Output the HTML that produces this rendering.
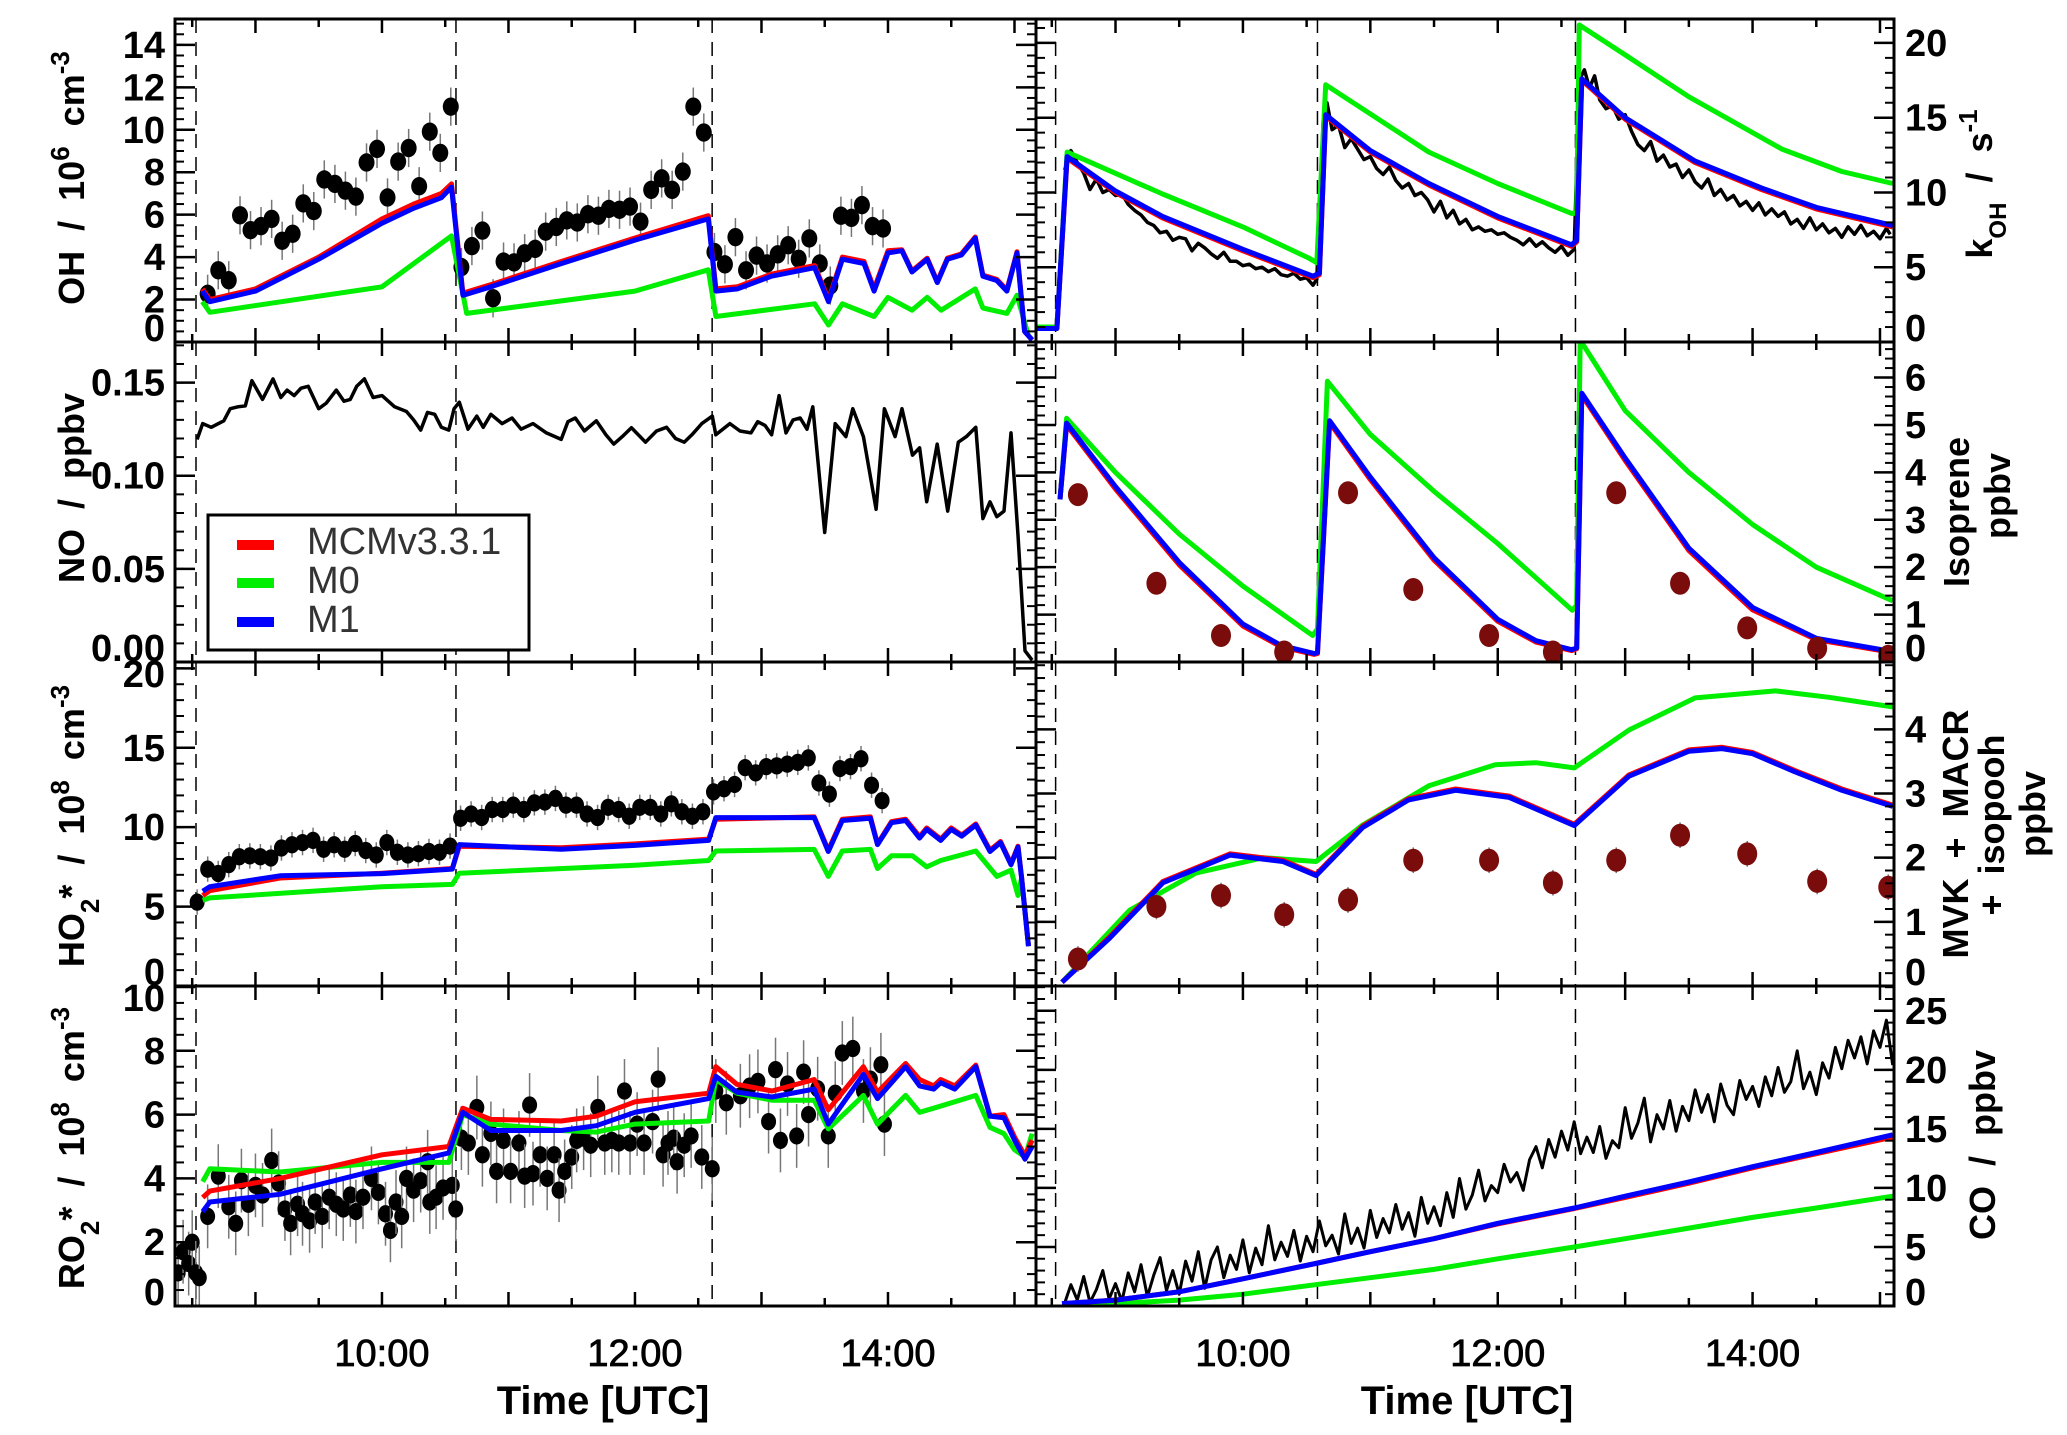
<!DOCTYPE html>
<html><head><meta charset="utf-8"><title>Chamber experiment OH, kOH, NO, isoprene, HO2, MVK, RO2 and CO time series</title>
<style>
html,body{margin:0;padding:0;background:#fff;}
svg{display:block;font-family:"Liberation Sans",sans-serif;}
.ttl{white-space:pre;}
</style></head>
<body>
<svg id="fig" width="2067" height="1435" viewBox="0 0 2067 1435" xmlns="http://www.w3.org/2000/svg">
<rect x="0" y="0" width="2067" height="1435" fill="#fff"/>
<g id="root"></g>

<!-- Axis titles -->
<g font-family="Liberation Sans, sans-serif" font-weight="bold" fill="#000" font-size="36">
  <text class="ttl" transform="translate(84,178) rotate(-90)" text-anchor="middle">OH  /  10<tspan baseline-shift="super" font-size="26">6</tspan>  cm<tspan baseline-shift="super" font-size="26">-3</tspan></text>
  <text class="ttl" transform="translate(84,488) rotate(-90)" text-anchor="middle">NO  /  ppbv</text>
  <text class="ttl" transform="translate(84,826) rotate(-90)" text-anchor="middle">HO<tspan baseline-shift="sub" font-size="26">2</tspan>*  /  10<tspan baseline-shift="super" font-size="26">8</tspan>  cm<tspan baseline-shift="super" font-size="26">-3</tspan></text>
  <text class="ttl" transform="translate(84,1148) rotate(-90)" text-anchor="middle">RO<tspan baseline-shift="sub" font-size="26">2</tspan>*  /  10<tspan baseline-shift="super" font-size="26">8</tspan>  cm<tspan baseline-shift="super" font-size="26">-3</tspan></text>
  <text class="ttl" transform="translate(1992,184) rotate(-90)" text-anchor="middle">k<tspan baseline-shift="sub" font-size="24">OH</tspan>  /  s<tspan baseline-shift="super" font-size="26">-1</tspan></text>
  <text transform="translate(1969,512) rotate(-90)" text-anchor="middle">Isoprene</text>
  <text transform="translate(2010,496) rotate(-90)" text-anchor="middle">ppbv</text>
  <text class="ttl" transform="translate(1968,834) rotate(-90)" text-anchor="middle">MVK  +  MACR</text>
  <text class="ttl" transform="translate(2004,825) rotate(-90)" text-anchor="middle">+  isopooh</text>
  <text transform="translate(2045,814) rotate(-90)" text-anchor="middle">ppbv</text>
  <text class="ttl" transform="translate(1995,1145) rotate(-90)" text-anchor="middle">CO  /  ppbv</text>
</g>

<!-- Legend -->
<g>
  <rect x="208" y="515" width="321" height="135" fill="#fff" stroke="#000" stroke-width="3"/>
  <g>
    <rect x="237" y="540" width="37" height="10" fill="#ff0000"/>
    <text x="307" y="554" font-size="38" fill="#333" font-family="Liberation Sans, sans-serif">MCMv3.3.1</text>
  </g>
  <g>
    <rect x="237" y="578" width="37" height="10" fill="#00ee00"/>
    <text x="307" y="593" font-size="38" fill="#333" font-family="Liberation Sans, sans-serif">M0</text>
  </g>
  <g>
    <rect x="237" y="617" width="37" height="10" fill="#0000ff"/>
    <text x="307" y="632" font-size="38" fill="#333" font-family="Liberation Sans, sans-serif">M1</text>
  </g>
</g>
</svg>
<script>
// ---------- data ----------
const expStarts = [8.53, 10.585, 12.61];
const hourTicks = [10, 12, 14];
const hourLabels = ["10:00", "12:00", "14:00"];

// OH (1e6 cm-3)
const ohObs = [[8.622,2.27],[8.706,3.38],[8.789,2.91],[8.878,5.97],[8.961,5.27],[9.044,5.46],[9.128,5.80],[9.211,4.77],[9.294,5.10],[9.378,6.53],[9.461,6.17],[9.544,7.66],[9.628,7.45],[9.711,7.13],[9.794,6.85],[9.878,8.46],[9.961,9.10],[10.044,6.81],[10.128,8.50],[10.211,9.14],[10.294,7.34],[10.378,9.91],[10.461,8.91],[10.544,11.09],[10.628,3.53],[10.711,4.52],[10.794,5.25],[10.878,2.06],[10.961,3.79],[11.044,3.75],[11.128,4.18],[11.211,4.39],[11.294,5.2],[11.378,5.42],[11.461,5.73],[11.544,5.63],[11.628,6.02],[11.711,5.95],[11.794,6.27],[11.878,6.23],[11.961,6.38],[12.044,5.67],[12.128,7.17],[12.211,7.71],[12.294,7.17],[12.378,8.03],[12.461,11.09],[12.544,9.87],[12.628,4.24],[12.711,3.66],[12.794,4.94],[12.878,3.38],[12.961,4.07],[13.044,3.70],[13.128,4.13],[13.211,4.56],[13.294,3.92],[13.378,4.88],[13.461,3.70],[13.544,2.66],[13.628,5.95],[13.711,5.85],[13.794,6.45],[13.878,5.46],[13.961,5.35]];
const ohErr = 0.9;
const ohM1 = [[8.58,2.4],[8.64,1.9],[9.0,2.4],[9.5,3.9],[10.0,5.6],[10.25,6.3],[10.47,6.8],[10.55,7.3],[10.64,2.2],[10.86,2.6],[11.42,3.7],[12.0,4.8],[12.58,5.8],[12.64,2.4],[12.81,2.5],[13.08,3.1],[13.42,3.5],[13.53,1.9],[13.64,3.9],[13.81,3.7],[13.89,2.4],[14.0,4.2],[14.11,4.3],[14.19,3.3],[14.31,3.9],[14.39,2.8],[14.47,3.9],[14.58,4.1],[14.69,4.9],[14.75,3.1],[14.86,2.9],[14.94,2.4],[15.02,4.2],[15.08,0.5],[15.14,0.1]];
const ohMCM = [[8.58,2.5],[8.64,2.0],[9.0,2.5],[9.5,4.0],[10.0,5.8],[10.25,6.5],[10.47,7.0],[10.55,7.45],[10.64,2.3],[10.86,2.7],[11.42,3.8],[12.0,4.9],[12.58,5.95],[12.64,2.5],[12.81,2.6],[13.08,3.2],[13.42,3.6],[13.53,2.0],[13.64,4.0],[13.81,3.8],[13.89,2.5],[14.0,4.3],[14.11,4.35],[14.19,3.35],[14.31,3.95],[14.39,2.85],[14.47,3.95],[14.58,4.15],[14.69,4.95],[14.75,3.15],[14.86,2.95],[14.94,2.45],[15.02,4.25],[15.08,0.5],[15.14,0.1]];
const ohM0 = [[8.58,1.9],[8.64,1.4],[10.0,2.6],[10.55,5.0],[10.67,1.35],[12.0,2.4],[12.58,3.4],[12.64,1.2],[13.42,1.8],[13.53,0.8],[13.64,1.8],[13.89,1.2],[14.0,2.1],[14.19,1.5],[14.31,2.1],[14.42,1.5],[14.69,2.5],[14.75,1.6],[14.94,1.35],[15.02,2.2],[15.11,0.3]];

// kOH (s-1)
const kohObs = [[8.60,11.5],[8.65,12.8],[8.70,12.0],[8.75,11.3],[8.80,10.2],[8.85,10.9],[8.90,10.0],[8.95,10.2],[9.00,9.8],[9.05,9.9],[9.10,9.2],[9.15,8.8],[9.20,8.5],[9.25,8.0],[9.30,7.8],[9.35,7.3],[9.40,7.4],[9.45,6.8],[9.50,7.0],[9.55,6.9],[9.60,6.1],[9.65,6.6],[9.70,6.3],[9.75,5.9],[9.80,5.6],[9.85,6.0],[9.90,5.4],[9.95,5.4],[10.00,5.1],[10.05,5.2],[10.10,4.9],[10.15,5.0],[10.20,4.7],[10.25,4.9],[10.30,4.5],[10.35,4.4],[10.40,4.6],[10.45,4.2],[10.50,4.3],[10.55,3.8],[10.58,4.2],[10.63,14.8],[10.66,16.0],[10.70,14.2],[10.75,14.5],[10.80,13.0],[10.85,13.6],[10.90,12.9],[10.95,12.2],[11.00,12.4],[11.05,11.6],[11.10,11.2],[11.15,11.7],[11.20,10.8],[11.25,10.3],[11.30,10.6],[11.35,9.8],[11.40,10.0],[11.45,9.5],[11.50,8.7],[11.55,9.4],[11.60,8.3],[11.65,8.8],[11.70,7.9],[11.75,8.2],[11.80,7.5],[11.85,7.7],[11.90,7.4],[11.95,7.5],[12.00,7.2],[12.05,7.3],[12.10,7.0],[12.15,6.8],[12.20,6.5],[12.25,6.9],[12.30,6.4],[12.35,6.7],[12.40,6.3],[12.45,6.0],[12.50,6.4],[12.55,5.8],[12.60,6.2],[12.64,17.5],[12.68,18.2],[12.72,17.0],[12.76,17.8],[12.80,16.2],[12.85,15.6],[12.90,15.8],[12.95,14.9],[13.00,15.2],[13.05,14.1],[13.10,13.2],[13.15,12.8],[13.20,13.4],[13.25,12.1],[13.30,12.5],[13.35,11.7],[13.40,11.9],[13.45,11.0],[13.50,11.5],[13.55,10.7],[13.60,10.3],[13.65,10.9],[13.70,9.8],[13.75,10.2],[13.80,9.5],[13.85,9.8],[13.90,9.1],[13.95,9.4],[14.00,8.8],[14.05,9.3],[14.10,8.5],[14.15,8.9],[14.20,8.4],[14.25,8.7],[14.30,7.9],[14.35,8.2],[14.40,7.6],[14.45,8.3],[14.50,7.5],[14.55,7.9],[14.60,7.3],[14.65,7.6],[14.70,7.0],[14.75,7.7],[14.80,7.2],[14.85,7.8],[14.90,7.1],[14.95,7.4],[15.00,6.9],[15.05,7.6],[15.08,7.2]];
const kohM1 = [[8.38,0.9],[8.54,0.9],[8.62,12.4],[9.0,10.1],[9.37,8.4],[10.0,6.2],[10.55,4.4],[10.6,4.6],[10.65,15.2],[11.0,12.8],[11.46,10.6],[12.0,8.4],[12.58,6.5],[12.62,6.8],[12.66,17.6],[13.0,15.0],[13.55,12.1],[14.07,10.3],[14.5,9.0],[15.1,7.8]];
const kohMCM = [[8.38,0.9],[8.54,0.9],[8.62,12.3],[9.0,10.0],[9.37,8.3],[10.0,6.1],[10.55,4.3],[10.6,4.5],[10.65,15.1],[11.0,12.7],[11.46,10.5],[12.0,8.3],[12.58,6.4],[12.62,6.7],[12.66,17.5],[13.0,14.9],[13.55,12.0],[14.07,10.2],[14.5,8.9],[15.1,7.7]];
const kohM0 = [[8.38,1.0],[8.54,1.0],[8.62,12.7],[9.37,9.9],[10.0,7.7],[10.52,5.6],[10.58,5.3],[10.65,17.2],[11.46,12.7],[12.0,10.6],[12.58,8.6],[12.62,8.6],[12.64,21.2],[13.0,19.2],[13.5,16.4],[14.23,12.9],[14.7,11.4],[15.1,10.6]];

// NO (ppbv)
const noObs = [[8.539,0.1195],[8.583,0.128],[8.65,0.126],[8.75,0.1295],[8.8,0.136],[8.861,0.137],[8.92,0.1375],[8.972,0.151],[9.056,0.141],[9.139,0.152],[9.2,0.142],[9.25,0.146],[9.306,0.143],[9.36,0.147],[9.417,0.148],[9.5,0.136],[9.56,0.139],[9.639,0.146],[9.7,0.140],[9.75,0.141],[9.8,0.148],[9.861,0.152],[9.93,0.142],[10.0,0.143],[10.1,0.137],[10.194,0.1345],[10.25,0.130],[10.306,0.1245],[10.36,0.134],[10.417,0.133],[10.47,0.126],[10.528,0.1245],[10.57,0.136],[10.611,0.1395],[10.68,0.125],[10.75,0.132],[10.8,0.126],[10.861,0.133],[10.95,0.128],[11.028,0.131],[11.1,0.125],[11.194,0.128],[11.3,0.123],[11.417,0.1195],[11.47,0.129],[11.528,0.131],[11.6,0.124],[11.694,0.1295],[11.77,0.122],[11.833,0.117],[11.9,0.121],[11.972,0.1258],[12.083,0.118],[12.17,0.124],[12.25,0.126],[12.32,0.120],[12.389,0.118],[12.45,0.122],[12.528,0.128],[12.611,0.132],[12.639,0.122],[12.75,0.128],[12.83,0.124],[12.917,0.123],[12.97,0.129],[13.028,0.127],[13.08,0.122],[13.139,0.143],[13.194,0.123],[13.25,0.130],[13.306,0.131],[13.36,0.125],[13.406,0.137],[13.5,0.0695],[13.583,0.128],[13.667,0.121],[13.722,0.136],[13.806,0.121],[13.906,0.082],[13.972,0.136],[14.056,0.121],[14.111,0.136],[14.194,0.111],[14.25,0.115],[14.306,0.086],[14.389,0.117],[14.472,0.081],[14.556,0.118],[14.62,0.121],[14.694,0.126],[14.75,0.077],[14.806,0.086],[14.86,0.078],[14.917,0.081],[14.972,0.123],[15.028,0.068],[15.083,0.006],[15.139,0.001]];

// Isoprene (ppbv)
const isoObs = [[8.705,3.53],[9.321,1.66],[9.828,0.56],[10.324,0.21],[10.825,3.57],[11.337,1.53],[11.932,0.56],[12.433,0.21],[12.93,3.57],[13.431,1.66],[13.958,0.72],[14.507,0.29],[15.065,0.12]];
const isoM1 = [[8.564,3.43],[8.616,5.04],[9.0,3.7],[9.5,2.1],[10.0,0.8],[10.3,0.35],[10.56,0.18],[10.585,0.2],[10.68,5.09],[11.0,3.9],[11.5,2.2],[12.0,0.9],[12.3,0.45],[12.58,0.26],[12.62,0.3],[12.66,5.67],[13.0,4.3],[13.5,2.4],[14.0,1.15],[14.5,0.5],[15.1,0.22]];
const isoMCM = [[8.564,3.43],[8.616,5.0],[9.0,3.65],[9.5,2.05],[10.0,0.76],[10.3,0.32],[10.56,0.16],[10.585,0.18],[10.68,5.05],[11.0,3.85],[11.5,2.15],[12.0,0.86],[12.3,0.42],[12.58,0.24],[12.62,0.28],[12.66,5.63],[13.0,4.25],[13.5,2.35],[14.0,1.1],[14.5,0.47],[15.1,0.2]];
const isoM0 = [[8.564,3.43],[8.616,5.14],[9.0,4.0],[9.5,2.7],[10.0,1.6],[10.548,0.56],[10.585,0.7],[10.663,5.92],[11.0,4.8],[11.5,3.6],[12.0,2.5],[12.585,1.09],[12.62,1.2],[12.647,6.79],[13.0,5.3],[13.5,4.0],[14.0,2.9],[14.5,2.0],[15.1,1.29]];

// HO2* (1e8 cm-3)
const ho2Start = 8.539;
const ho2Step = 0.0833;
const ho2Obs = [5.28,7.36,7.08,7.64,8.14,8.19,8.14,8.06,8.69,8.89,9.03,9.17,8.61,8.89,8.61,8.97,8.53,8.25,9.03,8.42,8.25,8.33,8.47,8.42,8.81,10.56,10.83,10.61,11.11,11.11,11.39,11.11,11.53,11.58,11.81,11.39,11.39,10.83,10.61,11.25,11.11,10.69,11.25,11.25,10.83,11.47,10.97,10.69,10.97,12.22,12.42,12.69,13.75,13.42,13.81,13.86,13.97,14.08,14.36,12.78,12.08,13.69,13.81,14.31,12.64,11.67];
const ho2Err = 0.8;
const ho2M1 = [[8.583,5.97],[8.639,6.25],[9.194,6.94],[10.0,7.08],[10.556,7.36],[10.611,8.9],[11.417,8.61],[12.0,8.85],[12.583,9.17],[12.639,10.6],[13.417,10.6],[13.528,8.47],[13.639,10.42],[13.861,10.56],[13.917,8.9],[14.028,10.28],[14.139,10.42],[14.25,9.31],[14.306,9.86],[14.417,9.17],[14.5,9.86],[14.583,9.44],[14.694,10.14],[14.806,8.47],[14.889,9.03],[14.972,7.64],[15.028,8.75],[15.056,6.8],[15.111,2.5]];
const ho2MCM = [[8.583,5.7],[8.639,6.0],[9.194,6.8],[10.0,7.1],[10.556,7.4],[10.611,8.8],[11.417,8.7],[12.0,8.95],[12.583,9.25],[12.639,10.5],[13.417,10.65],[13.528,8.55],[13.639,10.5],[13.861,10.65],[13.917,8.95],[14.028,10.35],[14.139,10.5],[14.25,9.4],[14.306,9.95],[14.417,9.25],[14.5,9.95],[14.583,9.5],[14.694,10.2],[14.806,8.55],[14.889,9.1],[14.972,7.7],[15.028,8.8],[15.056,6.85],[15.111,2.5]];
const ho2M0 = [[8.583,5.4],[8.639,5.55],[10.0,6.25],[10.556,6.4],[10.611,7.1],[12.0,7.6],[12.583,7.9],[12.639,8.5],[13.417,8.6],[13.528,6.9],[13.639,8.5],[13.861,8.6],[13.917,7.4],[14.028,8.2],[14.194,8.2],[14.306,7.5],[14.417,7.9],[14.694,8.5],[14.861,6.9],[14.972,7.3],[15.028,5.7],[15.056,6.8],[15.111,2.5]];

// MVK+MACR+isopooh (ppbv)
const mvkObs = [[8.705,0.42],[9.321,1.24],[9.828,1.41],[10.324,1.11],[10.825,1.34],[11.337,1.96],[11.932,1.96],[12.433,1.61],[12.93,1.96],[13.431,2.35],[13.958,2.06],[14.507,1.63],[15.065,1.54]];
const mvkErr = 0.2;
const mvkM1 = [[8.58,0.06],[8.956,0.75],[9.373,1.61],[9.9,2.04],[10.313,1.94],[10.574,1.72],[10.94,2.47],[11.3,2.9],[11.67,3.05],[12.09,2.94],[12.6,2.5],[13.03,3.27],[13.5,3.66],[13.76,3.70],[14.0,3.62],[14.33,3.34],[14.7,3.05],[15.1,2.8]];
const mvkMCM = [[8.58,0.06],[8.956,0.77],[9.373,1.63],[9.9,2.06],[10.313,1.96],[10.574,1.74],[10.94,2.49],[11.3,2.92],[11.67,3.07],[12.09,2.96],[12.6,2.52],[13.03,3.29],[13.5,3.68],[13.76,3.72],[14.0,3.64],[14.33,3.36],[14.7,3.07],[15.1,2.82]];
const mvkM0 = [[8.58,0.06],[9.11,1.18],[9.63,1.76],[10.16,2.0],[10.574,1.94],[10.94,2.51],[11.46,3.12],[11.98,3.45],[12.3,3.48],[12.6,3.4],[13.03,3.99],[13.55,4.49],[14.18,4.6],[14.6,4.5],[15.1,4.35]];

// RO2* (1e8 cm-3)
const ro2Obs = [[8.389,1.04],[8.428,1.70],[8.472,1.33],[8.5,2.0],[8.528,1.04],[8.556,0.89],[8.622,2.81],[8.706,4.07],[8.789,3.11],[8.844,2.59],[8.889,3.93],[8.944,3.19],[9.0,3.78],[9.056,3.48],[9.128,4.56],[9.183,3.85],[9.233,3.04],[9.278,2.59],[9.333,3.19],[9.372,2.89],[9.428,2.67],[9.472,3.26],[9.528,2.81],[9.583,3.41],[9.639,3.19],[9.694,3.04],[9.75,3.48],[9.794,2.96],[9.85,3.41],[9.917,4.0],[9.972,3.56],[10.028,2.89],[10.067,2.37],[10.111,3.26],[10.156,2.81],[10.194,4.0],[10.25,3.63],[10.306,3.93],[10.361,4.52],[10.378,3.26],[10.428,3.41],[10.483,3.70],[10.556,3.78],[10.583,3.04],[10.628,5.26],[10.683,5.11],[10.75,6.22],[10.794,4.74],[10.861,5.41],[10.906,4.22],[10.961,5.19],[11.017,4.22],[11.083,5.11],[11.128,4.07],[11.167,6.30],[11.194,4.15],[11.25,4.74],[11.306,4.0],[11.361,4.74],[11.4,3.63],[11.444,4.22],[11.5,4.67],[11.539,5.19],[11.594,5.26],[11.65,5.04],[11.706,6.22],[11.761,5.11],[11.817,5.19],[11.872,5.11],[11.917,6.74],[11.961,5.11],[12.017,5.70],[12.072,5.11],[12.139,5.78],[12.183,7.11],[12.222,4.74],[12.261,5.11],[12.306,5.26],[12.333,4.52],[12.389,5.04],[12.444,5.33],[12.528,4.67],[12.611,4.30],[12.639,6.74],[12.722,6.37],[12.833,6.59],[12.906,6.89],[12.972,7.04],[13.056,5.78],[13.111,7.41],[13.15,5.19],[13.206,6.96],[13.278,5.33],[13.333,7.33],[13.372,6.0],[13.444,6.81],[13.528,5.33],[13.583,6.67],[13.639,7.93],[13.722,8.07],[13.806,6.74],[13.861,7.11],[13.944,7.56],[13.972,5.70]];
const ro2Err = 1.0;
const ro2MCM = [[8.583,3.4],[8.639,3.6],[9.194,4.0],[10.0,4.74],[10.528,5.0],[10.639,6.2],[10.861,5.85],[11.417,5.8],[11.694,5.95],[12.0,6.4],[12.583,6.67],[12.639,7.5],[12.806,6.95],[13.083,6.74],[13.417,7.1],[13.528,6.15],[13.806,7.5],[13.917,6.7],[14.139,7.6],[14.25,7.1],[14.361,6.9],[14.417,7.1],[14.528,6.9],[14.694,7.55],[14.806,5.95],[14.917,6.0],[15.0,5.3],[15.083,4.7],[15.139,5.2]];
const ro2M1 = [[8.583,2.96],[8.639,3.26],[9.194,3.5],[10.0,4.3],[10.528,4.8],[10.639,6.07],[10.861,5.5],[11.417,5.5],[11.694,5.65],[12.0,6.07],[12.583,6.5],[12.639,7.2],[12.806,6.7],[13.083,6.55],[13.417,6.8],[13.528,5.7],[13.806,7.26],[13.917,6.5],[14.139,7.5],[14.25,6.9],[14.361,6.8],[14.417,7.0],[14.528,6.8],[14.694,7.5],[14.806,5.95],[14.917,5.9],[15.0,5.2],[15.083,4.6],[15.139,5.0]];
const ro2M0 = [[8.583,3.9],[8.639,4.3],[9.194,4.2],[10.0,4.5],[10.528,4.5],[10.639,6.0],[10.861,5.7],[11.417,5.5],[11.694,5.45],[12.0,5.7],[12.583,5.8],[12.639,7.1],[12.806,6.67],[13.083,6.45],[13.417,6.45],[13.528,5.55],[13.806,6.6],[13.917,5.7],[14.139,6.6],[14.25,6.07],[14.361,6.2],[14.694,6.6],[14.806,5.6],[14.917,5.4],[15.0,4.9],[15.083,4.67],[15.139,5.4]];

// CO (ppbv)
const coStart = 8.60;
const coStep = 0.05;
const coObs = [0.2,1.8,0.5,2.5,0.3,1.4,3.0,0.6,1.9,
 0.4,2.8,1.2,3.5,0.8,2.6,4.1,1.3,3.0,
 1.0,3.8,2.1,4.6,1.5,3.9,5.0,2.4,4.3,3.1,
 5.6,2.8,4.9,3.5,6.8,3.9,5.4,4.2,6.4,3.8,
 5.9,4.6,7.2,5.1,6.0,4.4,7.8,5.3,6.6,4.9,
 8.1,5.8,7.4,6.2,8.6,6.5,7.9,5.9,9.2,7.0,
 8.4,6.8,9.6,7.5,10.8,8.2,9.4,11.5,8.9,10.2,
 9.6,12.0,10.5,11.3,9.8,12.4,13.5,11.7,14.1,12.6,
 14.8,13.2,15.6,12.9,14.3,13.0,15.2,12.5,14.0,13.4,
 16.8,14.2,15.5,17.6,13.9,16.2,15.0,17.4,14.8,16.9,
 15.7,18.3,16.4,17.9,15.6,18.8,17.0,16.2,19.1,17.5,
 18.6,16.9,19.4,17.8,20.2,18.1,19.0,21.6,18.4,19.8,
 17.9,20.6,19.3,21.9,20.1,22.5,21.0,22.8,20.5,23.3,
 21.9,24.2,20.4];
const coM1 = [[8.58,0.2],[9.0,0.5],[9.5,1.2],[10.0,2.3],[10.57,3.6],[11.0,4.6],[11.5,5.7],[12.0,7.0],[12.6,8.3],[13.0,9.3],[13.5,10.5],[14.0,11.8],[14.5,13.0],[15.1,14.5]];
const coMCM = [[8.58,0.2],[9.0,0.5],[9.5,1.2],[10.0,2.3],[10.57,3.6],[11.0,4.6],[11.5,5.7],[12.0,6.95],[12.6,8.25],[13.0,9.2],[13.5,10.4],[14.0,11.7],[14.5,12.9],[15.1,14.3]];
const coM0 = [[8.58,0.1],[9.0,0.2],[9.5,0.5],[10.0,1.0],[10.57,1.8],[11.0,2.4],[11.5,3.1],[12.0,4.0],[12.6,5.0],[13.0,5.7],[13.5,6.6],[14.0,7.5],[14.5,8.3],[15.1,9.3]];

// y ticks
const ohTicks = [0,2,4,6,8,10,12,14];
const noTicks = [0,0.05,0.10,0.15];
const ho2Ticks = [0,5,10,15,20];
const ro2Ticks = [0,2,4,6,8,10];
const kohTicks = [0,5,10,15,20];
const isoTicks = [0,1,2,3,4,5,6];
const mvkTicks = [0,1,2,3,4];
const coTicks = [0,5,10,15,20,25];

// ---------- drawing ----------
const NS = "http://www.w3.org/2000/svg";
const root = document.getElementById("root");
function mk(tag, attrs, parent) {
  const e = document.createElementNS(NS, tag);
  for (const k in attrs) e.setAttribute(k, attrs[k]);
  (parent || root).appendChild(e);
  return e;
}
const RED = "#ff0000", GREEN = "#00ee00", BLUE = "#0000ff", BROWN = "#7a0c0c";
const LW = 5;
const rows = [19, 342, 662, 986, 1306];
const colL = {x0: 175, x1: 1036, t0: 8.364, t1: 15.17};
const colR = {x0: 1036, x1: 1894, t0: 8.376, t1: 15.11};
let clipId = 0;

function makePanel(col, row, ymin, ymax, name) {
  const p = {x0: col.x0, x1: col.x1, y0: rows[row], y1: rows[row + 1], t0: col.t0, t1: col.t1, ymin: ymin, ymax: ymax};
  p.X = t => p.x0 + (t - p.t0) / (p.t1 - p.t0) * (p.x1 - p.x0);
  p.Y = v => p.y1 - (v - p.ymin) / (p.ymax - p.ymin) * (p.y1 - p.y0);
  const cid = "clip" + (clipId++);
  const cp = mk("clipPath", {id: cid});
  mk("rect", {x: p.x0, y: p.y0, width: p.x1 - p.x0, height: p.y1 - p.y0}, cp);
  p.g = mk("g", {"clip-path": "url(#" + cid + ")"});
  
  
  expStarts.forEach(t => {
    const l = mk("line", {x1: p.X(t), x2: p.X(t), y1: p.y0, y2: p.y1, stroke: "#000", "stroke-width": 1.5, "stroke-dasharray": "14,9"}, p.g);
    
    
  });
  return p;
}

function frame(p, name, yTicks, minorStep, fmt, side) {
  const g = mk("g", {});
  
  
  mk("rect", {x: p.x0, y: p.y0, width: p.x1 - p.x0, height: p.y1 - p.y0, fill: "none", stroke: "#000", "stroke-width": 3}, g);
  for (let t = 8.5; t <= 15.01; t += 0.5) {
    const x = p.X(t);
    const L = (Math.abs(t - Math.round(t)) < 1e-6) ? 14 : 8;
    mk("line", {x1: x, x2: x, y1: p.y1, y2: p.y1 - L, stroke: "#000", "stroke-width": 2.5}, g);
    mk("line", {x1: x, x2: x, y1: p.y0, y2: p.y0 + L, stroke: "#000", "stroke-width": 2.5}, g);
  }
  for (let v = p.ymin; v <= p.ymax + 1e-9; v += minorStep) {
    const y = p.Y(v);
    mk("line", {x1: p.x0, x2: p.x0 + 9, y1: y, y2: y, stroke: "#000", "stroke-width": 2}, g);
    mk("line", {x1: p.x1, x2: p.x1 - 9, y1: y, y2: y, stroke: "#000", "stroke-width": 2}, g);
  }
  yTicks.forEach(v => {
    const y = p.Y(v);
    mk("line", {x1: p.x0, x2: p.x0 + 20, y1: y, y2: y, stroke: "#000", "stroke-width": 2.5}, g);
    mk("line", {x1: p.x1, x2: p.x1 - 20, y1: y, y2: y, stroke: "#000", "stroke-width": 2.5}, g);
    let ly = Math.min(y, p.y1 - 14);
    ly = Math.max(ly, p.y0 + 12);
    const tx = mk("text", {x: side === "left" ? 165 : 1905, y: ly + 13, "text-anchor": side === "left" ? "end" : "start", "font-size": 38, "font-weight": "bold", fill: "#000"}, g);
    
    
    tx.textContent = fmt(v);
  });
}

function line(p, data, color, w, name) {
  const d = data.map((pt, i) => (i ? "L" : "M") + p.X(pt[0]).toFixed(1) + "," + p.Y(pt[1]).toFixed(1)).join("");
  const e = mk("path", {d: d, fill: "none", stroke: color, "stroke-width": w, "stroke-linejoin": "round"}, p.g);
  
  
}
function dots(p, data, color, r, err, name) {
  const g = mk("g", {}, p.g);
  
  
  data.forEach(pt => {
    const x = p.X(pt[0]), y = p.Y(pt[1]);
    if (err) {
      const eb = mk("line", {x1: x, x2: x, y1: p.Y(pt[1] - err), y2: p.Y(pt[1] + err), stroke: "#777", "stroke-width": 1.5}, g);
      
      
    }
    const c = mk("ellipse", {cx: x, cy: y, rx: r, ry: r * 1.15, fill: color}, g);
    
    
  });
}
const f0 = v => String(Math.round(v));
const f2 = v => v.toFixed(2);

const pOH = makePanel(colL, 0, 0, 15.22, "oh");
dots(pOH, ohObs, "#000", 8, ohErr, "oh-observed");
line(pOH, ohM0, GREEN, LW, "oh-m0-line");
line(pOH, ohMCM, RED, LW, "oh-mcm-line");
line(pOH, ohM1, BLUE, LW, "oh-m1-line");
frame(pOH, "oh", ohTicks, 0.5, f0, "left");

const pK = makePanel(colR, 0, 0, 21.6, "koh");
line(pK, kohObs, "#000", 3.5, "koh-observed-line");
line(pK, kohM0, GREEN, LW, "koh-m0-line");
line(pK, kohMCM, RED, LW, "koh-mcm-line");
line(pK, kohM1, BLUE, LW, "koh-m1-line");
frame(pK, "koh", kohTicks, 1, f0, "right");

const pNO = makePanel(colL, 1, 0, 0.1718, "no");
line(pNO, noObs, "#000", 3.5, "no-observed-line");
frame(pNO, "no", noTicks, 0.01, f2, "left");

const pI = makePanel(colR, 1, 0, 6.75, "isoprene");
line(pI, isoM0, GREEN, LW, "isoprene-m0-line");
line(pI, isoMCM, RED, LW, "isoprene-mcm-line");
line(pI, isoM1, BLUE, LW, "isoprene-m1-line");
dots(pI, isoObs, BROWN, 10, 0, "isoprene-observed");
frame(pI, "isoprene", isoTicks, 0.2, f0, "right");

const pH = makePanel(colL, 2, 0, 20.4, "ho2");
dots(pH, ho2Obs.map((v, i) => [ho2Start + i * ho2Step, v]), "#000", 7.5, ho2Err, "ho2-observed");
line(pH, ho2M0, GREEN, LW, "ho2-m0-line");
line(pH, ho2MCM, RED, LW, "ho2-mcm-line");
line(pH, ho2M1, BLUE, LW, "ho2-m1-line");
frame(pH, "ho2", ho2Ticks, 1, f0, "left");

const pM = makePanel(colR, 2, 0, 5.05, "mvk");
line(pM, mvkM0, GREEN, LW, "mvk-m0-line");
line(pM, mvkMCM, RED, LW, "mvk-mcm-line");
line(pM, mvkM1, BLUE, LW, "mvk-m1-line");
dots(pM, mvkObs, BROWN, 10, mvkErr, "mvk-observed");
frame(pM, "mvk", mvkTicks, 0.2, f0, "right");

const pR = makePanel(colL, 3, 0, 10.03, "ro2");
dots(pR, ro2Obs, "#000", 7.5, ro2Err, "ro2-observed");
line(pR, ro2M0, GREEN, LW, "ro2-m0-line");
line(pR, ro2MCM, RED, LW, "ro2-mcm-line");
line(pR, ro2M1, BLUE, LW, "ro2-m1-line");
frame(pR, "ro2", ro2Ticks, 0.5, f0, "left");

const pC = makePanel(colR, 3, 0, 27.1, "co");
line(pC, coObs.map((v, i) => [coStart + i * coStep, v]), "#000", 3, "co-observed-line");
line(pC, coM0, GREEN, LW, "co-m0-line");
line(pC, coMCM, RED, LW, "co-mcm-line");
line(pC, coM1, BLUE, LW, "co-m1-line");
frame(pC, "co", coTicks, 1, f0, "right");

[[pR, "left"], [pC, "right"]].forEach(pair => {
  const p = pair[0];
  hourTicks.forEach((t, i) => {
    const tx = mk("text", {x: p.X(t), y: 1366, "text-anchor": "middle", "font-size": 38, fill: "#000", stroke: "#000", "stroke-width": 0.8});
    
    
    tx.textContent = hourLabels[i];
  });
  const tt = mk("text", {x: pair[1] === "left" ? 603 : 1467, y: 1414, "text-anchor": "middle", "font-size": 40, "font-weight": "bold", fill: "#000"});
  
  
  tt.textContent = "Time [UTC]";
});
</script>
</body></html>
